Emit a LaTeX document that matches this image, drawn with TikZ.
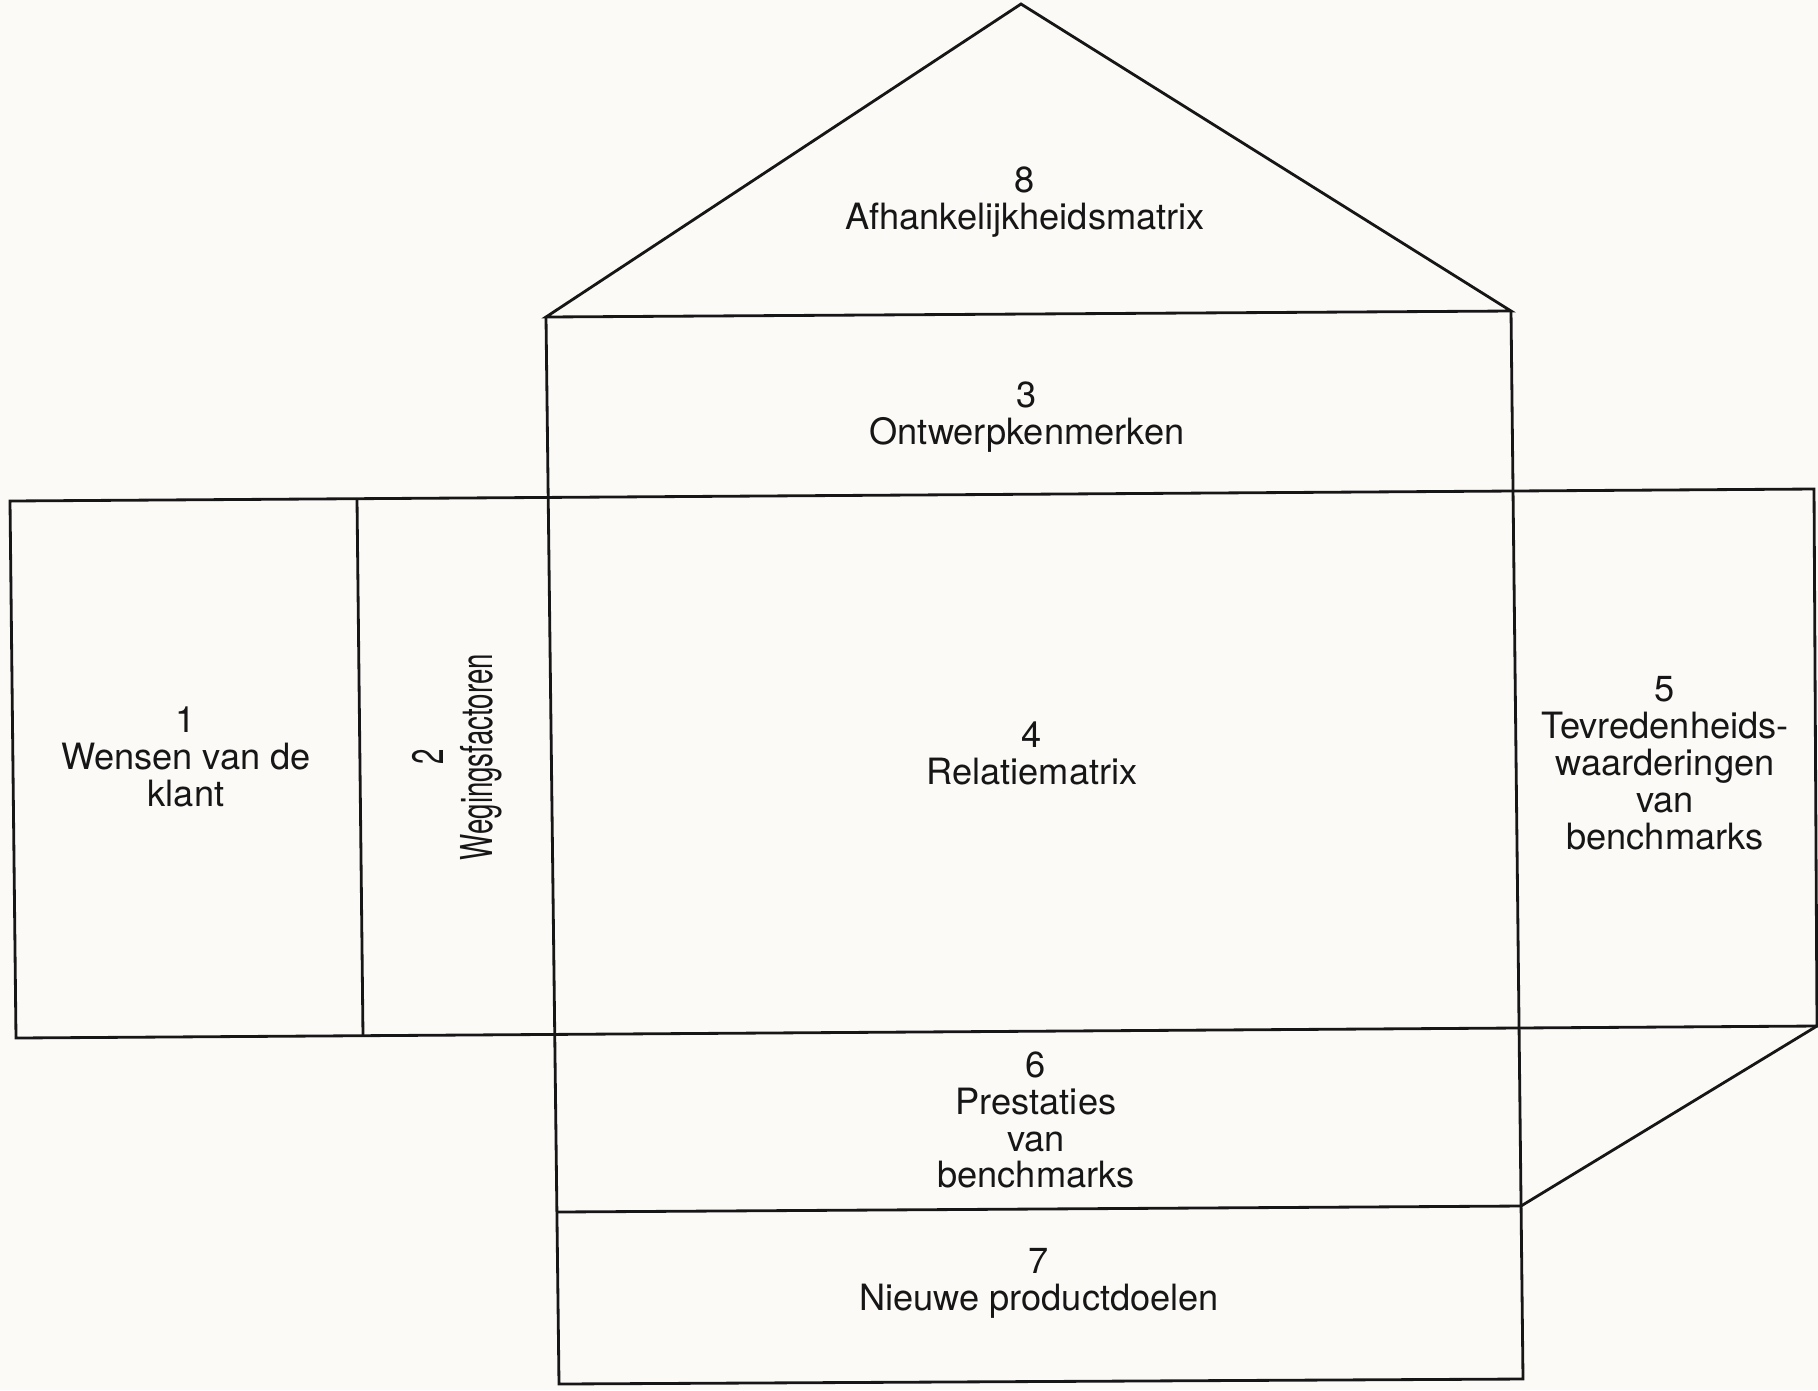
\documentclass[tikz,border=0pt]{standalone}
\usepackage{fontspec}
\setmainfont{TeX Gyre Heros}
\newfontfamily\condfont[FakeStretch=0.63]{TeX Gyre Heros}
\definecolor{paper}{RGB}{252,250,247}
\definecolor{ink}{RGB}{22,22,22}
\begin{document}
\begin{tikzpicture}[x=0.01cm,y=-0.01cm,
  wall/.style={draw=ink, line width=0.8pt, line join=miter},
  caption/.style={align=center, text=ink, inner sep=0pt,
    font=\fontsize{10.3}{10.5}\selectfont}]
% sheet
\fill[paper] (0,0) rectangle (1818,1390);
\useasboundingbox (0,0) rectangle (1818,1390);

% corner points of the house
\coordinate (apex)    at (1021,4);
\coordinate (roofL)   at (546,317);
\coordinate (roofR)   at (1511,311);
\coordinate (footL)   at (559,1384);
\coordinate (footR)   at (1523,1379);
\coordinate (boxLtop) at (10,501);
\coordinate (boxLbot) at (16,1038);
\coordinate (boxRtop) at (1814,489);
\coordinate (boxRbot) at (1817,1026);
\coordinate (divTop)  at (357,499);
\coordinate (divBot)  at (363,1036);
\coordinate (benchL)  at (557,1212);
\coordinate (benchR)  at (1521,1206);

% roof
\draw[wall] (roofL) -- (apex) -- (roofR) -- cycle;
% central column
\draw[wall] (roofL) -- (footL) -- (footR) -- (roofR);
% wide band across the middle
\draw[wall] (boxLtop) -- (boxRtop) -- (boxRbot) -- (boxLbot) -- cycle;
\draw[wall] (divTop) -- (divBot);
% benchmark row with slanted side
\draw[wall] (boxRbot) -- (benchR) -- (benchL);

% captions
\node[caption] (t8) at (1025,202) {8\\Afhankelijkheidsmatrix};
\node[caption] (t3) at (1027,417) {3\\Ontwerpkenmerken};
\node[caption] (t4) at (1032,753) {4\\Relatiematrix};
\node[caption] (t1) at (186,757) {1\\Wensen van de\\klant};
\node[caption, rotate=90, font=\condfont\fontsize{12.5}{13.8}\selectfont] (t2) at (457,757) {2\\Wegingsfactoren};
\node[caption] (t5) at (1665,763) {5\\Tevredenheids-\\waarderingen\\van\\benchmarks};
\node[caption] (t6) at (1036,1120) {6\\Prestaties\\van\\benchmarks};
\node[caption] (t7) at (1039,1283) {7\\Nieuwe productdoelen};
\end{tikzpicture}
\end{document}
